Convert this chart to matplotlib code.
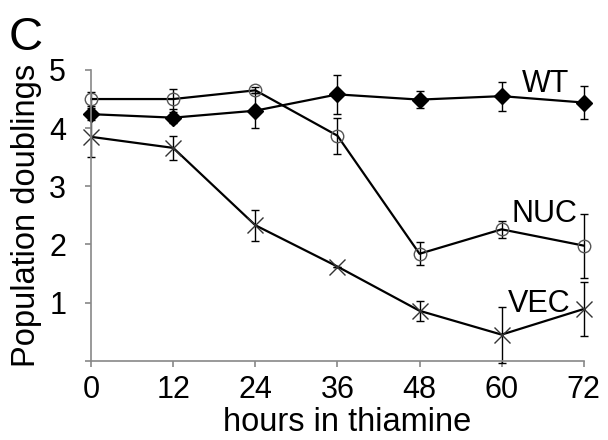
import numpy as np
import matplotlib.pyplot as plt

plt.rcParams['font.family'] = ['Liberation Sans', 'DejaVu Sans']

# data
hours = [0, 12, 24, 36, 48, 60, 72]

wt = [4.24, 4.18, 4.30, 4.58, 4.49, 4.55, 4.44]
wt_err = [0.10, 0.10, 0.30, 0.33, 0.15, 0.25, 0.28]

nuc = [4.50, 4.50, 4.65, 3.87, 1.84, 2.26, 1.98]
nuc_err = [0.12, 0.17, 0.05, 0.31, 0.20, 0.15, 0.55]

vec = [3.85, 3.66, 2.33, 1.62, 0.86, 0.45, 0.89]
vec_err = [0.35, 0.20, 0.27, 0.0, 0.17, 0.48, 0.46]

fig = plt.figure(figsize=(6.08, 4.40), dpi=100)
ax = fig.add_axes([0.150, 0.180, 0.810, 0.661])

ekw = dict(color='black', lw=1.6, elinewidth=1.0, capsize=3, capthick=1.0, clip_on=False)
ax.errorbar(hours, wt, yerr=wt_err, marker='D', ms=8, mfc='black', mec='black', **ekw)
ax.errorbar(hours, nuc, yerr=nuc_err, marker='o', ms=9, mfc='none', mec='#555555', mew=1.0, **ekw)
ax.errorbar(hours, vec, yerr=vec_err, marker='x', ms=11, mec='#333333', mew=1.0, **ekw)

ax.set_xlim(0, 72)
ax.set_ylim(0, 5)
ax.set_xticks(hours)
ax.set_yticks([1, 2, 3, 4, 5])
ax.set_yticks([0], minor=True)
for side in ['top', 'right']:
    ax.spines[side].set_visible(False)
for side in ['left', 'bottom']:
    ax.spines[side].set_color('#888888')
    ax.spines[side].set_linewidth(1.2)
ax.tick_params(axis='both', which='both', colors='#888888', length=4, width=1.2,
               labelsize=22, labelcolor='black')
ax.tick_params(axis='x', pad=6)
ax.tick_params(axis='y', pad=14)

ax.set_xlabel('hours in thiamine', fontsize=23.5)
ax.xaxis.set_label_coords(0.52, -0.16)
ax.set_ylabel('Population doublings', fontsize=23.5)
ax.yaxis.set_label_coords(-0.099, 0.5)

ax.text(63.0, 4.62, 'WT', fontsize=22, ha='left', va='baseline')
ax.text(61.5, 2.39, 'NUC', fontsize=22, ha='left', va='baseline')
ax.text(60.9, 0.84, 'VEC', fontsize=22, ha='left', va='baseline')

fig.text(0.015, 0.886, 'C', fontsize=34, ha='left', va='baseline')

fig.savefig('out.png', dpi=100)
